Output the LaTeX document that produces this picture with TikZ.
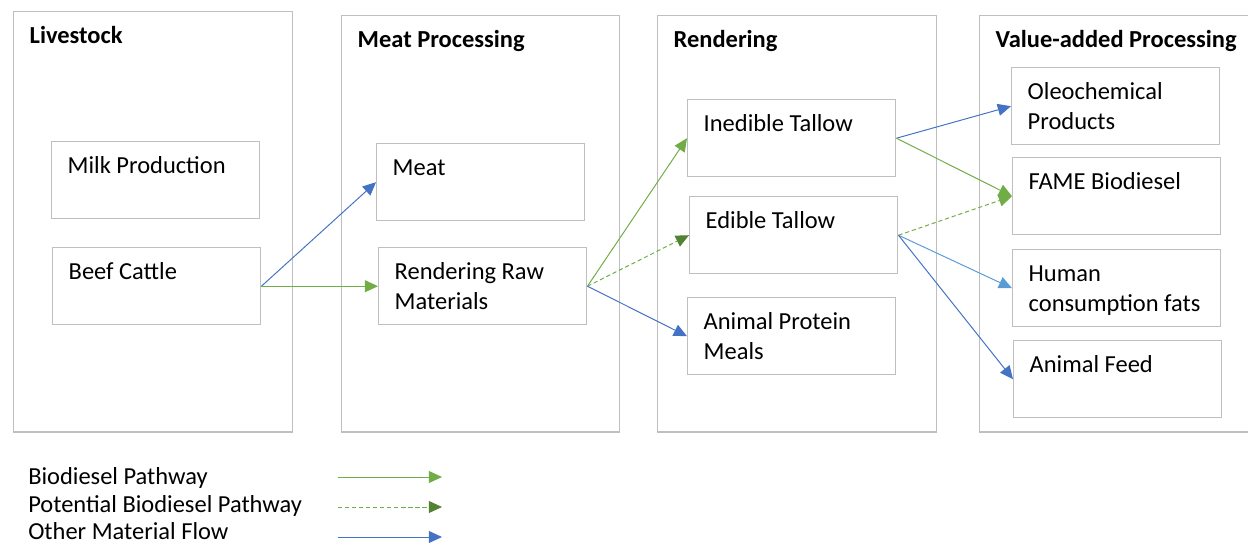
\documentclass[tikz,border=0pt]{standalone}
\usepackage{fontspec}
\setmainfont{Carlito}
\usepackage{xcolor}
\usetikzlibrary{arrows.meta, positioning}

\definecolor{bdgreen}{HTML}{70AD47}
\definecolor{bddark}{HTML}{548235}
\definecolor{flowblue}{HTML}{4472C4}
\definecolor{flowlight}{HTML}{5B9BD5}
\definecolor{boxgray}{HTML}{BFBFBF}

% text set at the top left of a box
\newcommand{\boxlabel}[3]{\parbox[c][#1][t]{#2}{\raggedright\leftskip=0.4cm\vspace*{0.26cm}\strut #3}}

\begin{document}
\begin{tikzpicture}[
  x=0.025cm, y=-0.025cm,
  font=\fontsize{17.4}{21.3}\selectfont,
  column/.style={draw=boxgray, line width=1pt, anchor=north west, inner sep=0pt},
  stage/.style={draw=boxgray, line width=1pt, anchor=north west, inner sep=0pt},
  biodiesel/.style={-{Triangle[length=0.33cm, width=0.3cm]}, bdgreen, line width=0.7pt},
  potential/.style={-{Triangle[length=0.33cm, width=0.3cm]}, bdgreen, line width=0.7pt, dash pattern=on 3pt off 2pt},
  otherflow/.style={-{Triangle[length=0.33cm, width=0.3cm]}, flowblue, line width=0.7pt},
  legendtext/.style={anchor=base west, inner sep=0pt}
]
\useasboundingbox (0,0) rectangle (1248,545);

% --- Columns ---
\node[column] (livestock) at (13,11) {\boxlabel{10.5cm}{6.975cm}{\textbf{Livestock}}};
\node[column] (meatproc) at (341,15) {\boxlabel{10.4cm}{6.95cm}{\textbf{Meat Processing}}};
\node[column] (rendering) at (657,15) {\boxlabel{10.4cm}{6.975cm}{\textbf{Rendering}}};
\node[column] (valueadd) at (979,15) {\boxlabel{10.4cm}{6.9cm}{\textbf{Value-added Processing}}};

% --- Livestock ---
\node[stage] (milk) at (51,141) {\boxlabel{1.925cm}{5.2cm}{Milk Production}};
\node[stage] (beef) at (52,247) {\boxlabel{1.925cm}{5.2cm}{Beef Cattle}};

% --- Meat processing ---
\node[stage] (meat) at (376,143) {\boxlabel{1.925cm}{5.2cm}{Meat}};
\node[stage] (rawmat) at (378,247) {\boxlabel{1.925cm}{5.2cm}{Rendering Raw\\Materials}};

% --- Rendering ---
\node[stage] (inedible) at (687,99) {\boxlabel{1.925cm}{5.2cm}{Inedible Tallow}};
\node[stage] (edible) at (689,196) {\boxlabel{1.925cm}{5.2cm}{Edible Tallow}};
\node[stage] (protein) at (687,297) {\boxlabel{1.925cm}{5.2cm}{Animal Protein\\Meals}};

% --- Value-added processing ---
\node[stage] (oleo) at (1011,67) {\boxlabel{1.925cm}{5.2cm}{Oleochemical\\Products}};
\node[stage] (fame) at (1012,157) {\boxlabel{1.925cm}{5.2cm}{FAME Biodiesel}};
\node[stage] (human) at (1012,249) {\boxlabel{1.925cm}{5.2cm}{Human\\consumption fats}};
\node[stage] (feed) at (1013,340) {\boxlabel{1.925cm}{5.2cm}{Animal Feed}};

% --- Flows ---
\draw[otherflow] (beef.east) -- (meat.west);
\draw[biodiesel] (beef.east) -- (rawmat.west);
\draw[biodiesel] (rawmat.east) -- (inedible.west);
\draw[potential, -{Triangle[length=0.33cm, width=0.3cm, color=bddark]}] (rawmat.east) -- (edible.west);
\draw[otherflow] (rawmat.east) -- (protein.west);
\draw[otherflow] (inedible.east) -- (oleo.west);
\draw[biodiesel] (inedible.east) -- (fame.west);
\draw[potential] (edible.east) -- (fame.west);
\draw[otherflow, flowlight] (edible.east) -- (human.west);
\draw[otherflow] (edible.east) -- (feed.west);

% --- Legend ---
\node[legendtext] (legbio) at (28,484) {Biodiesel Pathway};
\node[legendtext] (legpot) at (28,512) {Potential Biodiesel Pathway};
\node[legendtext] (legother) at (28,539) {Other Material Flow};
\coordinate (biostart) at (338,477);
\coordinate (bioend) at (442,477);
\coordinate (potstart) at (338,507);
\coordinate (potend) at (442,507);
\coordinate (otherstart) at (338,537);
\coordinate (otherend) at (442,537);
\draw[biodiesel] (biostart) -- (bioend);
\draw[potential, -{Triangle[length=0.33cm, width=0.3cm, color=bddark]}] (potstart) -- (potend);
\draw[otherflow] (otherstart) -- (otherend);

\end{tikzpicture}
\end{document}
